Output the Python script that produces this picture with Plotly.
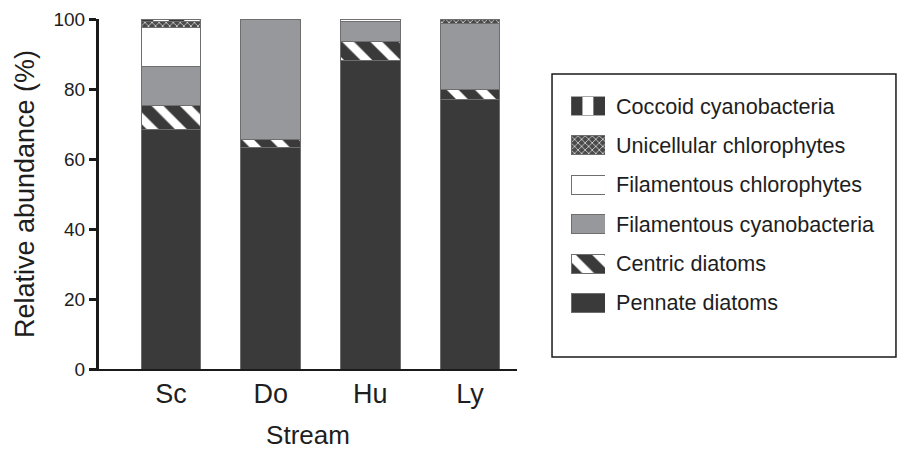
import plotly.graph_objects as go

# Streams and relative abundance (%) of each algal group, stacked bottom to top
streams = ["Sc", "Do", "Hu", "Ly"]
pennate_diatoms = [68.5, 63.2, 88.1, 77.0]
centric_diatoms = [6.7, 2.3, 5.4, 3.0]
filamentous_cyanobacteria = [11.3, 34.5, 5.8, 18.8]
filamentous_chlorophytes = [11.1, 0.0, 0.7, 0.0]
unicellular_chlorophytes = [1.6, 0.0, 0.0, 1.2]
coccoid_cyanobacteria = [0.8, 0.0, 0.0, 0.0]

y_ticks = [0, 20, 40, 60, 80, 100]

FONT = "Liberation Sans, Arial, Helvetica, sans-serif"
TEXT = "#1e1e1e"
EDGE = "#6e6e6e"
DARK = "#3a3a3a"
GREY = "#97989c"

groups = [
    ("Pennate diatoms", pennate_diatoms,
     dict(color=DARK)),
    ("Centric diatoms", centric_diatoms,
     dict(color=DARK, pattern=dict(shape="\\", fgcolor="white", bgcolor=DARK,
                                   size=20, solidity=0.42, fillmode="replace"))),
    ("Filamentous cyanobacteria", filamentous_cyanobacteria,
     dict(color=GREY)),
    ("Filamentous chlorophytes", filamentous_chlorophytes,
     dict(color="white")),
    ("Unicellular chlorophytes", unicellular_chlorophytes,
     dict(color="#555555", pattern=dict(shape="x", fgcolor="#d8d8d8", bgcolor="#4a4a4a",
                                        size=5, solidity=0.3, fillmode="replace"))),
    ("Coccoid cyanobacteria", coccoid_cyanobacteria,
     dict(color=DARK, pattern=dict(shape="|", fgcolor=DARK, bgcolor="white",
                                   size=31, solidity=0.5, fillmode="replace"))),
]

fig = go.Figure()

for name, values, marker in groups:
    m = dict(marker)
    m["line"] = dict(color=EDGE, width=1)
    fig.add_trace(go.Bar(
        x=streams, y=values, name=name, marker=m, width=0.6,
        showlegend=False, xaxis="x", yaxis="y",
    ))

# Legend swatches drawn as bars on their own small axes, one row per group
legend_order = list(reversed(groups))
for i, (name, values, marker) in enumerate(legend_order):
    if name == "Coccoid cyanobacteria":
        # dark | white | dark striped swatch
        for seg, col in ((0.33, DARK), (0.34, "white"), (0.33, DARK)):
            fig.add_trace(go.Bar(
                y=[i], x=[seg], orientation="h", width=0.48,
                marker=dict(color=col, line=dict(color=EDGE, width=0.6)),
                showlegend=False, hoverinfo="skip", xaxis="x2", yaxis="y2",
            ))
        continue
    m = dict(marker)
    m["line"] = dict(color=EDGE, width=1)
    fig.add_trace(go.Bar(
        y=[i], x=[1], orientation="h", width=0.48, marker=m,
        showlegend=False, hoverinfo="skip", xaxis="x2", yaxis="y2",
    ))

annotations = []
for i, (name, values, marker) in enumerate(legend_order):
    annotations.append(dict(
        x=0.6454, xref="paper", y=i, yref="y2", text=name, showarrow=False,
        xanchor="left", yanchor="middle", font=dict(family=FONT, size=21.6, color=TEXT),
    ))

fig.update_layout(
    width=898, height=450,
    margin=dict(l=99, r=1, t=19, b=81),
    paper_bgcolor="white", plot_bgcolor="white",
    barmode="stack",
    font=dict(family=FONT, color=TEXT),
    xaxis=dict(
        domain=[0, 0.5238], range=[-0.722, 3.4716],
        showline=True, linecolor="#1a1a1a", linewidth=2,
        ticks="", showgrid=False, zeroline=False,
        tickfont=dict(family=FONT, size=27, color=TEXT),
        title=dict(text="Stream", font=dict(family=FONT, size=26, color=TEXT), standoff=19),
    ),
    yaxis=dict(
        range=[0, 100], tickvals=y_ticks,
        showline=True, linecolor="#1a1a1a", linewidth=3,
        ticks="outside", ticklen=7, tickwidth=2.5, tickcolor="#1a1a1a",
        showgrid=False, zeroline=False,
        tickfont=dict(family=FONT, size=19, color=TEXT),
        title=dict(text="Relative abundance (%)", font=dict(family=FONT, size=27, color=TEXT),
                   standoff=12),
    ),
    xaxis2=dict(domain=[0.5915, 0.6341], range=[0, 1], anchor="y2",
                visible=False, fixedrange=True),
    yaxis2=dict(domain=[0.1323, 0.8077], range=[5.5, -0.5], anchor="x2",
                visible=False, fixedrange=True),
    shapes=[dict(type="rect", xref="paper", yref="paper",
                 x0=0.5677, x1=0.9987, y0=0.0343, y1=0.8429,
                 line=dict(color="#1a1a1a", width=1.5), fillcolor="rgba(0,0,0,0)")],
    annotations=annotations,
    showlegend=False,
)

fig.write_html("out.html")
